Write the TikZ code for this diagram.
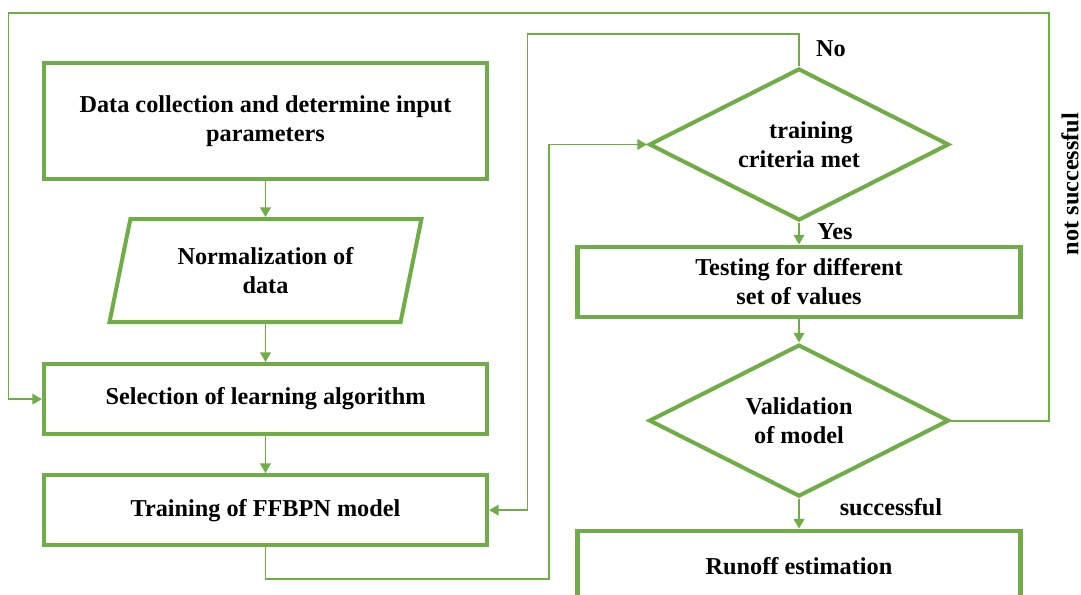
\documentclass[tikz,border=0pt]{standalone}
\usepackage{fontspec}
\setmainfont{Liberation Serif}
\usepackage{xcolor}
\usepackage{tikz}
\usetikzlibrary{shapes.geometric,arrows.meta,positioning}
\definecolor{leaf}{HTML}{70AD47}

\begin{document}
\begin{tikzpicture}[
    node distance=0.84cm,
    box/.style={rectangle, draw=leaf, line width=2.3pt, minimum width=8.86cm, minimum height=1.4cm, align=center, font=\fontsize{13.8}{16.5}\selectfont\bfseries},
    io/.style={trapezium, trapezium left angle=76, trapezium right angle=104, trapezium stretches=true, draw=leaf, line width=2.3pt, minimum width=6.24cm, minimum height=2.06cm, align=center, font=\fontsize{13.8}{16.5}\selectfont\bfseries},
    decision/.style={diamond, aspect=2, inner sep=1pt, draw=leaf, line width=2.3pt, minimum width=6cm, minimum height=3.04cm, align=center, font=\fontsize{13.8}{16.5}\selectfont\bfseries},
    lbl/.style={font=\fontsize{13.8}{16.5}\selectfont\bfseries},
    arrow/.style={-{Triangle[length=5.5pt,width=6pt]}, draw=leaf, line width=1.1pt}
]
\useasboundingbox (0,0) rectangle (21.62,11.9);
\clip (0,0) rectangle (21.62,11.9);

% left column
\node[box, minimum height=2.32cm] (data) at (5.31,9.48) {Data collection and determine input\\parameters};
\node[io, below=0.72cm of data] (norm) {Normalization of\\data};
\node[box, below=0.76cm of norm] (select) {Selection of learning algorithm};
\node[box, below=0.74cm of select] (train) {Training of FFBPN model};

% right column
\node[decision] (crit) at (15.98,9.01) {\hspace*{0.48cm}training\\criteria met};
\node[box, below=0.44cm of crit] (test) {Testing for different\\set of values};
\node[decision, below=0.48cm of test] (valid) {Validation\\of model};
\node[box, below=0.6cm of valid] (runoff) {Runoff estimation};

% labels
\node[lbl] (no) at ([xshift=0.64cm,yshift=0.35cm]crit.north) {No};
\node[lbl] (yes) at ([xshift=0.72cm,yshift=-0.18cm]crit.south) {Yes};
\node[lbl] (succ) at ([xshift=1.84cm,yshift=-0.17cm]valid.south) {successful};
\node[lbl, rotate=90] (notsucc) at (21.4,8.22) {not successful};

\draw[arrow] (data.south) -- (norm.north);
\draw[arrow] (norm.south) -- (select.north);
\draw[arrow] (select.south) -- (train.north);
\draw[arrow] (crit.south) -- (test.north);
\draw[arrow] (test.south) -- (valid.north);
\draw[arrow] (valid.south) -- (runoff.north);

% loops
\draw[arrow] (train.south) -- ++(0,-0.64cm) -| ([xshift=-1.96cm]crit.west) -- (crit.west);
\draw[arrow] (crit.north) -- ++(0,0.64cm) -| ([xshift=0.77cm]train.east) -- (train.east);
\draw[arrow] (valid.east) -| ++(1.96cm,8.16cm) -| ([xshift=-0.67cm]select.west) -- (select.west);
\end{tikzpicture}
\end{document}
